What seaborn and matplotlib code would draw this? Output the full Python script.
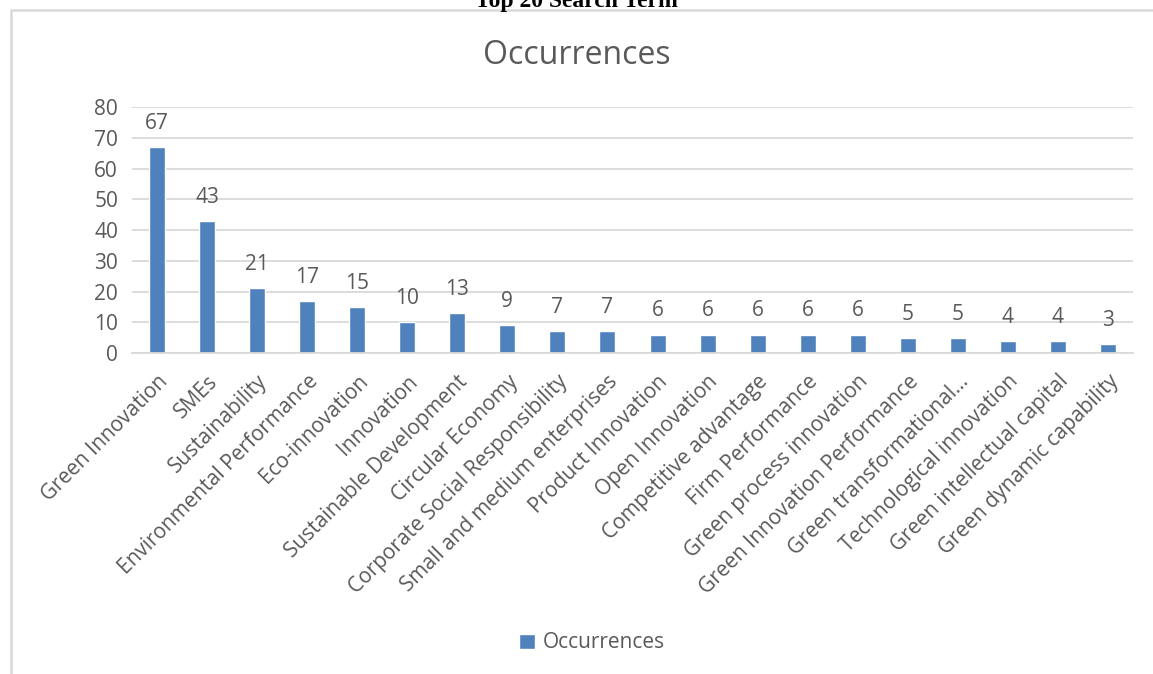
import matplotlib
matplotlib.use("Agg")
import matplotlib.pyplot as plt
from matplotlib.patches import Rectangle
import seaborn as sns
import pandas as pd

terms = [
    "Green Innovation", "SMEs", "Sustainability", "Environmental Performance",
    "Eco-innovation", "Innovation", "Sustainable Development", "Circular Economy",
    "Corporate Social Responsibility", "Small and medium enterprises",
    "Product Innovation", "Open Innovation", "Competitive advantage",
    "Firm Performance", "Green process innovation", "Green Innovation Performance",
    "Green transformational\u2026", "Technological innovation",
    "Green intellectual capital", "Green dynamic capability",
]
occurrences = [67, 43, 21, 17, 15, 10, 13, 9, 7, 7, 6, 6, 6, 6, 6, 5, 5, 4, 4, 3]
y_ticks = [0, 10, 20, 30, 40, 50, 60, 70, 80]

sns.set_theme(style="white")
plt.rcParams["font.family"] = ["Open Sans", "DejaVu Sans"]

BAR = "#4F81BD"
TEXT = "#595959"
GRID = "#D9D9D9"
FS = 15

df = pd.DataFrame({"Term": terms, "Occurrences": occurrences})

W, H = 1153, 674
fig = plt.figure(figsize=(W / 100, H / 100), dpi=100)
fig.patch.set_facecolor("white")

# chart frame (top and left edges visible)
fig.add_artist(Rectangle((11 / W, -0.05), 1.2, 1 - 10 / H + 0.05,
                         transform=fig.transFigure, fill=False,
                         edgecolor=GRID, linewidth=1.8))

ax = fig.add_axes([132 / W, 1 - 353 / H, (1133 - 132) / W, (353 - 107) / H])
sns.barplot(data=df, x="Term", y="Occurrences", color=BAR, width=0.32,
            saturation=1, ax=ax)

ax.set_ylim(0, 80)
ax.set_xlim(-0.5, len(terms) - 0.5)
ax.set_yticks(y_ticks)
ax.set_yticklabels([str(v) for v in y_ticks], fontsize=FS, color=TEXT)
ax.yaxis.grid(True, color=GRID, linewidth=1.3)
ax.set_axisbelow(True)
for s in ["top", "right", "left"]:
    ax.spines[s].set_visible(False)
ax.spines["bottom"].set_color(GRID)
ax.spines["bottom"].set_linewidth(1.3)
ax.tick_params(axis="y", length=0, pad=10)
ax.tick_params(axis="x", length=0, pad=13)
ax.set_xlabel("")
ax.set_ylabel("")
ax.set_xticks(range(len(terms)))
ax.set_xticklabels(terms, rotation=45, ha="right", rotation_mode="anchor",
                   fontsize=FS, color=TEXT)

for i, v in enumerate(occurrences):
    ax.annotate(str(v), (i, v), xytext=(0, 17), textcoords="offset points",
                ha="center", va="center", fontsize=FS, color=TEXT)

fig.text(0.5, 1 - 56 / H, "Occurrences", ha="center", va="center",
         fontsize=23, color=TEXT)
fig.text(0.5, 1 - 2 / H, "Top 20 Search Term", ha="center", va="center",
         fontsize=17, fontweight="bold", family="Liberation Serif", color="black")

# legend at the bottom
handle = Rectangle((0, 0), 1, 1, facecolor=BAR)
fig.legend([handle], ["Occurrences"], loc="center", bbox_to_anchor=(592 / W, 1 - 643 / H),
           frameon=False, fontsize=FS, labelcolor=TEXT, handlelength=0.75,
           handleheight=0.75, handletextpad=0.4)

fig.savefig("out.png", dpi=100, facecolor="white")
